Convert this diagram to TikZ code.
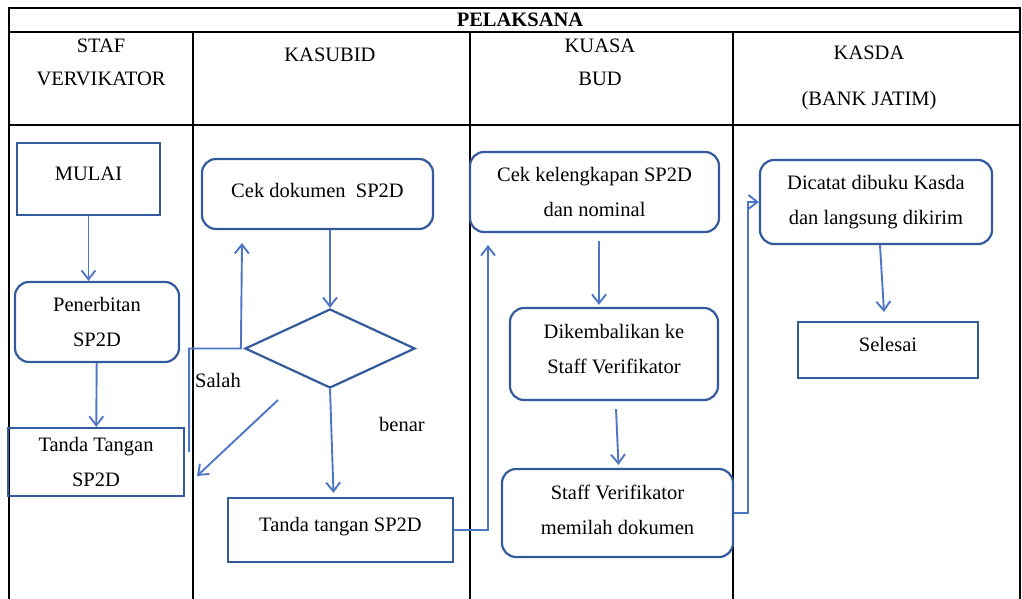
\documentclass[tikz,border=0pt]{standalone}
\usepackage{fontspec}
\setmainfont{Liberation Serif}
\usetikzlibrary{shapes.geometric,arrows.meta}
\definecolor{boxblue}{RGB}{52,90,158}
\definecolor{linkblue}{RGB}{78,118,198}

\begin{document}
\begin{tikzpicture}[x=1pt,y=-1pt,
    font=\fontsize{20.5}{35}\selectfont,
    kotak/.style={draw=boxblue,line width=2.2pt,inner sep=0pt,align=center},
    bulat/.style={kotak,rounded corners=14pt},
    panah/.style={draw=linkblue,line width=1.9pt,-{Straight Barb[length=9pt,width=14pt]}},
    garis/.style={line width=1.3pt}]
      \useasboundingbox (0,0) rectangle (1022,599);
      \draw[garis] (9,599) -- (9,8) -- (1020,8) -- (1020,599);
      \draw[garis] (9,32) -- (1020,32);
      \draw[garis] (9,125) -- (1020,125);
      \foreach \x in {193,470,733} \draw[garis] (\x,32) -- (\x,599);

      \node[font=\fontsize{20.5}{35}\selectfont\bfseries] (h0) at (520,20) {PELAKSANA};
      \node[align=center,font=\fontsize{20.5}{33}\selectfont] (h1) at (101,62) {STAF\\VERVIKATOR};
      \node (h2) at (330,55) {KASUBID};
      \node[align=center,font=\fontsize{20.5}{33}\selectfont] (h3) at (600,62) {KUASA\\BUD};
      \node[align=center,font=\fontsize{20.5}{46}\selectfont] (h4) at (869,78) {KASDA\\(BANK JATIM)};

      \node[kotak,minimum width=143pt,minimum height=72pt,text depth=10pt] (1) at (88.5,179) {MULAI};
      \node[bulat,minimum width=164pt,minimum height=80pt] (2) at (97,322) {Penerbitan\\SP2D};
      \node[kotak,minimum width=176pt,minimum height=68pt] (3) at (96,462) {Tanda Tangan\\SP2D};
      \node[bulat,minimum width=231pt,minimum height=70pt,text depth=8pt] (4) at (317.5,194) {Cek dokumen\ \ SP2D};
      \node[diamond,draw=boxblue,line width=2.2pt,inner sep=0pt,minimum width=170pt,minimum height=79pt] (5) at (330,348.5) {};
      \node[kotak,minimum width=225pt,minimum height=64pt,text depth=10.5pt] (6) at (340.5,530) {Tanda tangan SP2D};
      \node[bulat,minimum width=249pt,minimum height=80pt] (7) at (594.5,192) {Cek kelengkapan SP2D\\dan nominal};
      \node[bulat,minimum width=208pt,minimum height=92pt,text depth=10pt] (8) at (614,354) {Dikembalikan ke\\Staff Verifikator};
      \node[bulat,minimum width=231pt,minimum height=88pt,text depth=6pt] (9) at (617.5,513) {Staff Verifikator\\memilah dokumen};
      \node[bulat,minimum width=232pt,minimum height=84pt] (10) at (876,202) {Dicatat dibuku Kasda\\dan langsung dikirim};
      \node[kotak,minimum width=180pt,minimum height=56pt,text depth=12pt] (11) at (888,350) {Selesai};

      \node (s) at (218,380) {Salah};
      \node (b) at (402,424) {benar};

      \coordinate (c1) at (242,243);
      \coordinate (c2) at (488,245);
      \coordinate (c3) at (278,400);
      \coordinate (c4) at (197,476);

      \draw[panah] (1.south) -- (1.south |- 2.north);
      \draw[panah] (2) -- (3);
      \draw[panah] (4.south -| 5.north) -- (5.north);
      \draw[panah] ([xshift=4pt,yshift=10pt]3.east) |- ([xshift=-3pt]5.west) -- (c1);
      \draw[panah] (c3) -- (c4);
      \draw[panah] (5.south) -- ([xshift=-7pt,yshift=4pt]6.north);
      \draw[panah] (6.east) -| (c2);
      \draw[panah] ([xshift=4.5pt,yshift=-8pt]7.south) -- ([xshift=4.5pt,yshift=2pt]7.south |- 8.north);
      \draw[panah] ([xshift=2pt,yshift=-8pt]8.south) -- ([xshift=1pt,yshift=3pt]9.north);
      \draw[panah] (9.east) -- ++(14,0) |- (10.west);
      \draw[panah] ([xshift=4pt]10.south) -- ([xshift=-4pt,yshift=9pt]11.north);
    \end{tikzpicture}
\end{document}
